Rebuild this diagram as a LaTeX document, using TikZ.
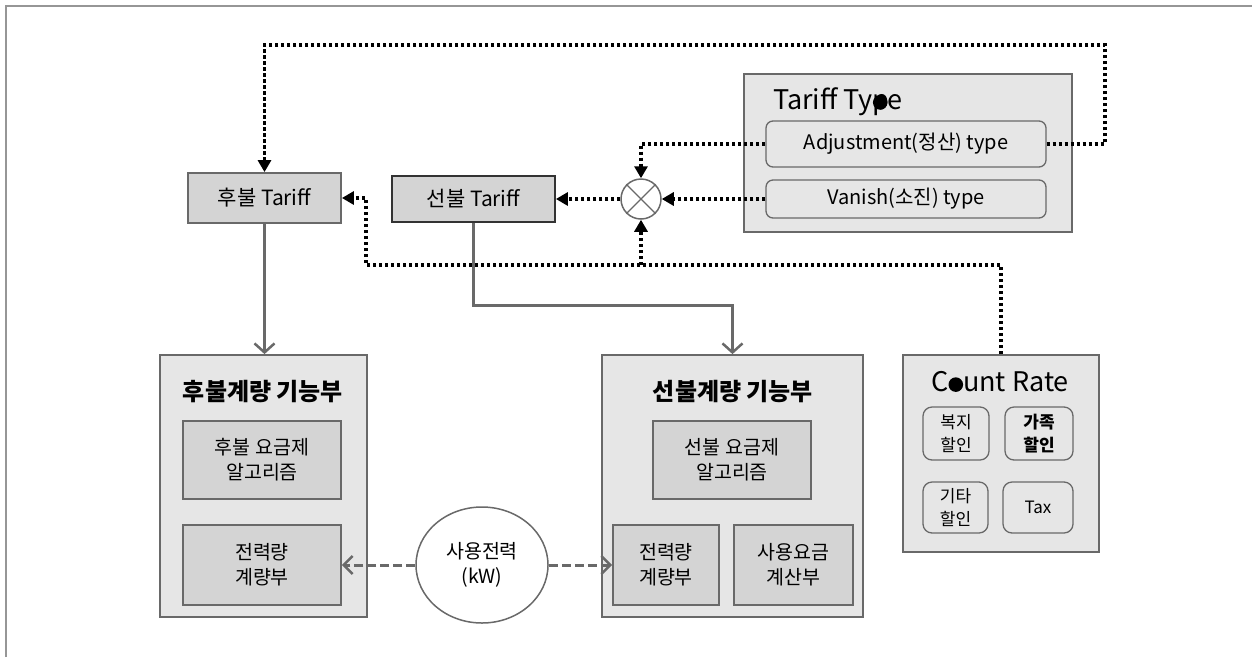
\documentclass[tikz,border=0pt]{standalone}
\usepackage{fontspec}
\setmainfont{Noto Sans CJK KR}
\usetikzlibrary{positioning, arrows.meta, shapes.geometric, calc}
\definecolor{boxgray}{RGB}{230,230,230}
\definecolor{innergray}{RGB}{212,212,212}
\definecolor{edgegray}{RGB}{105,105,105}
\definecolor{framegray}{RGB}{150,150,150}

% filled letter as printed in the titles
\newcommand{\blob}{\tikz[baseline=0pt]\fill (0.28em,0.27em) circle (0.27em);}

\begin{document}
\begin{tikzpicture}[x=1pt, y=-1pt,
    % Node Styles
    tariffbox/.style={rectangle, draw=edgegray, line width=1.8pt, fill=innergray, inner sep=0pt, font=\fontsize{21}{25}\selectfont},
    groupbox/.style={rectangle, draw=edgegray, line width=1.8pt, fill=boxgray, inner sep=0pt},
    innerbox/.style={rectangle, draw=edgegray, line width=1.8pt, fill=innergray, inner sep=0pt, align=center, font=\fontsize{19.5}{25}\selectfont},
    typebox/.style={rectangle, rounded corners=7pt, draw=edgegray, line width=1.3pt, fill=boxgray, inner sep=0pt, font=\fontsize{20}{24}\selectfont},
    ratebox/.style={rectangle, rounded corners=9pt, draw=edgegray, line width=1.3pt, fill=boxgray, inner sep=0pt, align=center, font=\fontsize{17}{23}\selectfont},
    headtext/.style={inner sep=0pt, font=\bfseries\fontsize{24}{28}\selectfont},
    % Edge Styles
    dotline/.style={line width=3.6pt, dash pattern=on 3.4pt off 2.6pt},
    dotarrow/.style={dotline, -{Triangle[length=12pt,width=13pt]}},
    flowarrow/.style={draw=edgegray, line width=3pt, -{Straight Barb[length=9pt,width=20pt,line width=2.5pt]}},
    usearrow/.style={draw=edgegray, line width=3pt, dash pattern=on 9pt off 4pt, -{Straight Barb[length=9pt,width=18pt,line width=2.5pt]}}
]
\useasboundingbox (0,0) rectangle (1252,657);

% Frame
\draw[framegray, line width=2pt] (6,657) -- (6,6) -- (1252,6);

% Tariff nodes
\node[tariffbox, minimum width=153pt, minimum height=50pt] (postT) at (264.5,198) {후불 Tariff};
\node[tariffbox, draw=black!80, minimum width=163pt, minimum height=46pt] (preT) at (473.5,199) {선불 Tariff};
\node[circle, draw=edgegray, line width=1.5pt, fill=white, minimum size=40pt, inner sep=0pt] (mix) at (641,199) {};
\draw[edgegray, line width=1.3pt] (mix.north west) -- (mix.south east) (mix.north east) -- (mix.south west);

% Tariff Type
\node[groupbox, minimum width=328pt, minimum height=158pt] (ttype) at (908,153) {};
\node[headtext, font=\fontsize{27}{30}\selectfont, anchor=west] (ttTitle) at (773,102) {Tariff Ty\rlap{p}\blob e};
\node[typebox, minimum width=280pt, minimum height=46pt] (adj) at (906,144) {Adjustment(정산) type};
\node[typebox, minimum width=280pt, minimum height=38pt] (van) at (906,199) {Vanish(소진) type};

% Count Rate
\node[groupbox, minimum width=196pt, minimum height=197pt] (crate) at (1001,453.5) {};
\node[headtext, font=\fontsize{27}{30}\selectfont] (crTitle) at (1000,382) {C\blob unt Rate};
\node[ratebox, minimum width=66pt, minimum height=53pt] (welfare) at (956,433.5) {복지\\할인};
\node[ratebox, minimum width=68pt, minimum height=53pt, font=\bfseries\fontsize{17}{23}\selectfont] (family) at (1039,433.5) {가족\\할인};
\node[ratebox, minimum width=65pt, minimum height=51pt] (etc) at (955.5,507.5) {기타\\할인};
\node[ratebox, minimum width=70pt, minimum height=51pt] (tax) at (1038,507.5) {Tax};

% Metering units
\node[groupbox, minimum width=207pt, minimum height=262pt] (postM) at (263.5,486) {};
\node[headtext] (postTitle) at (263,392) {후불계량 기능부};
\node[innerbox, minimum width=158pt, minimum height=78pt] (postAlg) at (262,460) {후불 요금제\\알고리즘};
\node[innerbox, minimum width=158pt, minimum height=80pt] (postMeter) at (262,565) {전력량\\계량부};

\node[groupbox, minimum width=261pt, minimum height=262pt] (preM) at (732.5,486) {};
\node[headtext] (preTitle) at (733,392) {선불계량 기능부};
\node[innerbox, minimum width=158pt, minimum height=78pt] (preAlg) at (732,460) {선불 요금제\\알고리즘};
\node[innerbox, minimum width=106pt, minimum height=80pt] (preMeter) at (666,565) {전력량\\계량부};
\node[innerbox, minimum width=119pt, minimum height=80pt] (preCalc) at (793.5,565) {사용요금\\계산부};

\node[ellipse, draw=edgegray, line width=1.5pt, fill=white, minimum width=132pt, minimum height=116pt, inner sep=0pt, align=center, font=\fontsize{19.5}{25}\selectfont] (power) at (482,565) {사용전력\\(kW)};

% Dotted links
\coordinate (topR) at (1105,45);
\coordinate (lowL) at (366,265);
\coordinate (bend) at (600,305);
\draw[dotarrow] (adj.east) -| (topR) -| (postT.north);
\draw[dotarrow] (adj.west) -| (mix.north);
\draw[dotarrow] (van.west) -- (mix.east);
\draw[dotarrow] (mix.west) -- (preT.east);
\draw[dotarrow] (crate.north) |- (lowL) |- (postT.east);
\draw[dotarrow] (mix.south |- lowL) -- (mix.south);

% Solid flows
\draw[flowarrow] (postT.south) -- (postT.south |- postM.north);
\draw[flowarrow] (preT.south) |- (bend) -| (preM.north);

% Power usage
\draw[usearrow] (power.west) -- (postMeter.east);
\draw[usearrow] (power.east) -- (preMeter.west);

\end{tikzpicture}
\end{document}
